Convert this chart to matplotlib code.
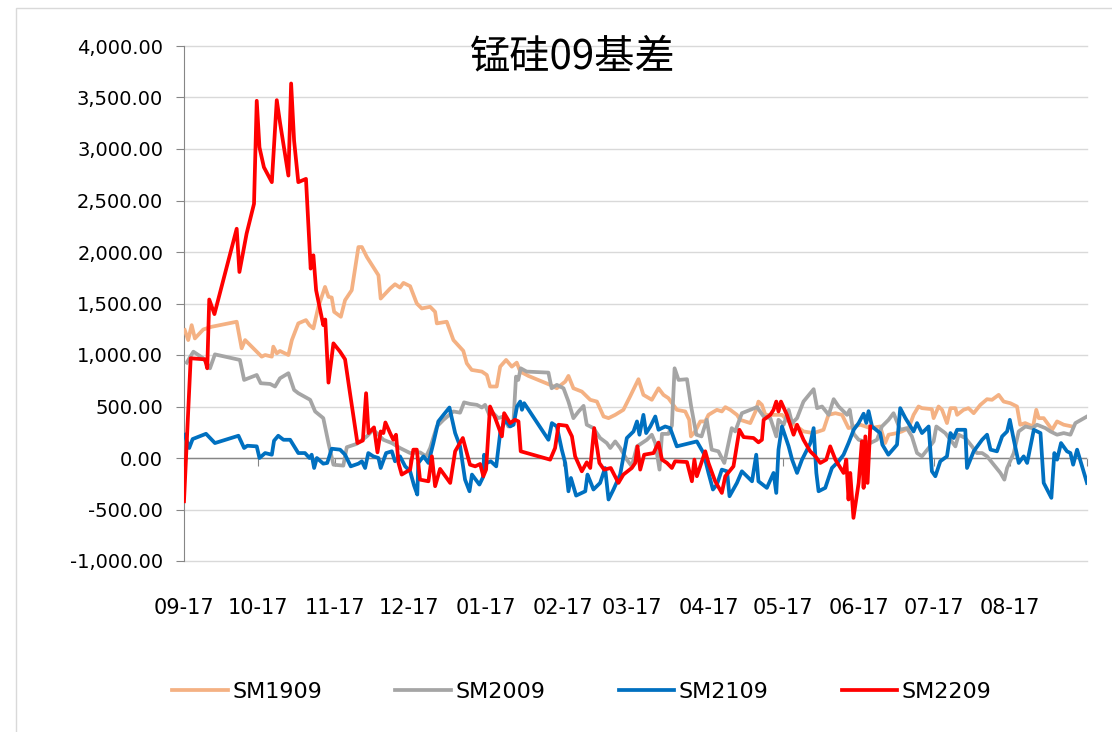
import datetime as dt
import matplotlib
matplotlib.use("Agg")
import matplotlib.pyplot as plt
import numpy as np
from matplotlib.patches import Rectangle
from matplotlib.ticker import FuncFormatter

plt.rcParams['font.family'] = ['DejaVu Sans']

# x = days after 09-17, y = basis
sm1909_day = [0.3, 1.7, 3.1, 4.4, 7.8, 11.2, 21.3, 23.3, 24.7, 29.4,
              31.4, 32.8, 35.5, 36.1, 37.5, 38.8, 42.2, 43.6, 46.2, 49.3,
              50.7, 52.3, 54.3, 57.0, 58.4, 59.7, 60.7, 63.4, 65.1, 67.8,
              70.5, 71.9, 73.9, 78.6, 79.5, 83.3, 85.3, 87.3, 88.7, 91.4,
              94.1, 96.1, 99.5, 101.5, 102.2, 106.2, 108.9, 112.9, 114.3, 116.3,
              120.4, 122.4, 123.7, 126.4, 127.8, 130.2, 132.5, 134.5, 135.9, 139.2,
              148.0, 150.7, 154.1, 155.4, 157.4, 160.8, 164.2, 166.9, 169.6, 171.6,
              174.3, 177.6, 180.3, 183.7, 185.7, 189.1, 191.8, 193.8, 195.8, 199.2,
              202.6, 204.2, 204.9, 206.6, 208.7, 210.7, 212.0, 215.4, 217.4, 218.8,
              220.8, 223.5, 224.8, 228.9, 231.3, 232.2, 233.6, 235.0, 241.7, 244.4,
              247.8, 250.4, 254.5, 258.5, 260.5, 263.3, 266.0, 268.6, 273.4, 277.4,
              281.4, 283.4, 284.8, 288.2, 290.2, 292.9, 294.9, 296.9, 298.3, 302.3,
              303.0, 305.0, 306.4, 308.4, 309.8, 311.8, 312.5, 315.1, 317.1, 319.2,
              321.9, 324.6, 326.6, 329.3, 331.3, 334.0, 336.7, 338.0, 340.0, 343.2,
              344.5, 345.5, 347.5, 350.9, 352.9, 355.6, 359.0]
sm1909_val = [1242, 1145, 1290, 1161, 1248, 1274, 1323, 1065, 1145, 1032,
              984, 1000, 984, 1081, 1016, 1039, 1000, 1145, 1307, 1339,
              1290, 1258, 1468, 1661, 1565, 1558, 1419, 1371, 1532, 1629,
              2048, 2048, 1952, 1774, 1548, 1645, 1687, 1655, 1700, 1668,
              1500, 1452, 1468, 1419, 1307, 1323, 1145, 1040, 919, 855,
              839, 806, 694, 694, 887, 952, 887, 926, 839, 797,
              710, 677, 742, 797, 677, 645, 565, 548, 403, 387,
              419, 468, 597, 765, 613, 565, 677, 613, 581, 468,
              452, 371, 210, 258, 355, 355, 419, 468, 452, 494,
              468, 419, 371, 339, 468, 548, 516, 419, 419, 355,
              306, 258, 242, 274, 419, 435, 419, 290, 323, 290,
              306, 145, 226, 242, 258, 290, 419, 500, 484, 474,
              387, 500, 468, 339, 484, 484, 419, 468, 484, 435,
              516, 571, 565, 613, 548, 532, 500, 323, 339, 306,
              468, 387, 387, 274, 355, 323, 306]

sm2009_day = [1.1, 3.8, 7.8, 10.5, 12.5, 22.6, 24.3, 29.4, 31.0, 34.8,
              36.8, 38.8, 42.2, 44.5, 46.2, 51.0, 53.0, 56.3, 58.4, 60.4,
              64.4, 65.8, 69.8, 73.9, 76.5, 78.6, 80.6, 84.0, 87.3, 91.4,
              95.4, 97.9, 99.5, 102.2, 104.9, 108.9, 111.6, 113.2, 115.6, 118.4,
              120.4, 121.7, 123.4, 125.0, 127.0, 129.1, 131.1, 133.1, 134.2, 135.1,
              136.1, 138.5, 147.3, 148.6, 150.7, 153.4, 155.4, 157.4, 159.5, 161.5,
              162.8, 165.5, 168.2, 170.9, 172.3, 174.3, 176.3, 179.0, 181.0, 183.1,
              185.1, 187.1, 189.1, 190.5, 192.2, 193.2, 195.8, 197.2, 198.3, 199.9,
              203.3, 205.0, 207.1, 209.2, 211.3, 213.3, 216.0, 218.4, 220.1, 221.4,
              222.8, 225.5, 228.9, 231.6, 234.3, 237.0, 239.4, 240.3, 242.4, 244.4,
              245.8, 247.8, 250.4, 254.5, 255.9, 257.9, 260.6, 262.6, 264.6, 268.0,
              269.1, 270.7, 272.7, 277.4, 280.1, 282.1, 284.8, 286.8, 289.5, 292.2,
              294.2, 296.3, 298.3, 301.0, 303.0, 304.1, 307.7, 309.8, 311.8, 313.1,
              315.8, 318.5, 320.5, 322.6, 324.6, 327.3, 330.0, 331.6, 332.7, 335.4,
              337.4, 340.1, 342.8, 344.8, 348.2, 350.2, 352.9, 355.6, 358.3, 360.3,
              365.0]
sm2009_val = [926, 1032, 968, 871, 1006, 952, 758, 806, 726, 719,
              694, 774, 823, 661, 629, 565, 452, 387, 145, -65,
              -74, 105, 137, 210, 274, 226, 177, 145, 97, 48,
              55, 16, 97, 306, 371, 452, 440, 540, 525, 516,
              490, 516, 419, 435, 387, 403, 306, 323, 790, 758,
              871, 839, 829, 677, 710, 677, 548, 387, 452, 506,
              323, 290, 194, 145, 97, 161, 97, -16, -81, 113,
              145, 177, 226, 145, -113, 234, 234, 315, 871, 758,
              765, 500, 226, 210, 371, 81, 65, -48, 145, 290,
              258, 435, 468, 494, 403, 387, 210, 371, 323, 468,
              339, 387, 548, 668, 484, 500, 419, 571, 500, 419,
              468, 234, 177, 145, 177, 306, 371, 435, 274, 290,
              210, 48, 16, 97, 161, 306, 242, 177, 113, 226,
              194, 113, 48, 48, 16, -65, -145, -210, -97, 48,
              258, 306, 290, 323, 290, 258, 226, 242, 226, 339,
              403]

sm2109_day = [0.3, 2.1, 3.5, 8.9, 12.5, 22.0, 24.3, 25.6, 29.4, 30.5,
              32.8, 35.5, 36.4, 38.1, 40.2, 42.9, 46.2, 48.9, 50.7, 51.6,
              52.6, 53.7, 56.3, 57.9, 59.7, 63.1, 65.1, 67.4, 70.5, 71.9,
              73.2, 74.5, 76.5, 78.6, 79.5, 81.7, 84.0, 85.3, 87.3, 89.4,
              91.4, 93.0, 94.3, 94.7, 96.8, 98.8, 100.8, 102.8, 104.9, 107.3,
              109.6, 111.6, 113.6, 115.4, 116.4, 119.4, 120.9, 121.3, 122.4, 124.0,
              126.2, 127.8, 129.8, 131.8, 133.2, 134.6, 135.9, 136.6, 137.5, 139.3,
              147.3, 148.7, 150.7, 152.7, 154.1, 155.4, 156.4, 158.5, 162.2, 163.1,
              164.2, 165.5, 168.2, 170.2, 171.6, 173.6, 176.3, 179.0, 181.7, 183.1,
              184.1, 185.7, 186.8, 188.5, 190.5, 191.8, 194.5, 196.5, 199.2, 204.6,
              207.3, 210.0, 212.0, 213.8, 215.4, 217.4, 219.5, 220.5, 223.5, 225.5,
              229.6, 231.3, 232.2, 235.6, 238.3, 239.4, 240.3, 241.7, 244.4, 245.8,
              247.8, 249.8, 253.2, 254.5, 255.6, 256.5, 259.2, 261.9, 264.6, 266.6,
              268.6, 270.7, 272.7, 274.7, 275.8, 276.7, 278.1, 281.4, 282.3, 284.7,
              288.2, 289.5, 291.6, 294.9, 296.3, 298.3, 301.0, 302.3, 303.7, 305.7,
              308.4, 309.8, 311.1, 312.5, 315.8, 316.5, 319.2, 322.6, 324.6, 326.0,
              328.6, 330.7, 332.7, 333.8, 335.4, 337.4, 339.4, 340.8, 343.5, 346.2,
              347.5, 350.6, 351.8, 352.9, 354.5, 356.9, 358.3, 359.4, 361.0, 365.0]
sm2109_val = [226, 97, 184, 235, 145, 216, 97, 119, 113, 0,
              48, 32, 168, 216, 177, 177, 48, 48, 0, 32,
              -97, 0, -55, -48, 90, 81, 32, -81, -55, -32,
              -97, 48, 16, 0, -97, 48, 65, -32, 16, -81,
              -129, -268, -355, -48, 16, -48, 145, 355, 419, 490,
              242, 113, -210, -323, -161, -258, -185, 32, -48, -32,
              -81, 242, 371, 306, 323, 500, 548, 468, 532, 468,
              177, 339, 306, 81, -48, -323, -194, -365, -323, -161,
              -226, -306, -242, -97, -403, -306, -161, 194, 258, 355,
              226, 419, 242, 306, 403, 274, 306, 290, 113, 145,
              161, 48, -145, -306, -258, -113, -129, -371, -242, -129,
              -226, 32, -226, -290, -145, -339, 81, 306, 113, -16,
              -145, -16, 145, 290, -145, -323, -290, -97, -32, 32,
              145, 274, 339, 430, 340, 455, 306, 242, 129, 32,
              129, 484, 387, 258, 339, 242, 306, -129, -177, -32,
              16, 242, 194, 274, 274, -97, 65, 177, 226, 81,
              65, 210, 258, 371, 177, -48, 16, -48, 274, 242,
              -242, -387, 48, -16, 145, 65, 48, -65, 81, -242]

sm2209_day = [0.0, 2.7, 8.5, 9.4, 10.2, 12.3, 21.3, 22.4, 25.3, 28.3,
              29.4, 30.5, 32.3, 35.5, 37.5, 38.8, 42.2, 43.3, 44.5, 46.2,
              49.3, 51.2, 52.3, 53.4, 56.3, 57.1, 58.4, 60.4, 63.1, 65.1,
              67.1, 70.1, 72.3, 73.6, 74.6, 75.9, 76.8, 78.2, 79.5, 80.6,
              81.4, 83.3, 84.6, 85.7, 86.7, 88.0, 91.4, 92.7, 94.1, 95.4,
              98.8, 100.2, 101.5, 103.5, 107.6, 109.6, 112.7, 113.6, 115.6, 117.7,
              119.7, 121.0, 122.1, 123.7, 125.8, 128.5, 129.4, 131.8, 133.8, 135.2,
              136.1, 148.0, 150.0, 151.4, 154.7, 156.8, 158.1, 160.8, 162.8, 164.2,
              165.8, 167.9, 169.8, 172.5, 175.6, 177.6, 181.0, 182.4, 183.3, 184.4,
              186.0, 189.8, 191.8, 193.2, 195.2, 197.2, 198.5, 203.3, 205.3, 206.3,
              207.3, 210.7, 212.0, 214.7, 217.4, 218.8, 222.1, 224.5, 226.2, 230.2,
              232.2, 233.6, 234.3, 237.0, 238.3, 239.4, 240.3, 241.3, 243.7, 246.4,
              247.8, 250.4, 253.1, 255.2, 257.2, 259.6, 261.2, 263.3, 266.6, 267.7,
              268.6, 269.3, 270.6, 272.7, 274.0, 274.7, 275.4, 276.3, 277.4]
sm2209_val = [-420, 968, 958, 871, 1539, 1397, 2226, 1806, 2178, 2468,
              3468, 3016, 2823, 2678, 3474, 3258, 2742, 3636, 3081, 2678,
              2710, 1839, 1968, 1629, 1290, 1345, 732, 1113, 1032, 958,
              629, 145, 170, 629, 242, 274, 297, 55, 258, 242,
              345, 242, 177, 226, -48, -161, -113, 81, 81, -210,
              -226, 16, -274, -106, -242, 65, 194, 113, -65, -81,
              -58, -177, -113, 500, 387, 210, 435, 339, 371, 355,
              65, -16, 97, 323, 313, 210, 16, -129, -42, -97,
              290, -48, -113, -97, -242, -161, -97, -48, 113, -113,
              32, 48, 150, -16, -48, -97, -32, -39, -226, -16,
              -177, 65, -48, -226, -339, -177, -81, 274, 203, 194,
              152, 177, 371, 419, 468, 548, 452, 548, 419, 226,
              323, 177, 65, 16, -48, -16, 113, -16, -145, -16,
              -403, -145, -581, -242, 161, -290, 210, -242, 306]

series = [("SM1909", sm1909_day, sm1909_val, "#F4B183"),
          ("SM2009", sm2009_day, sm2009_val, "#A5A5A5"),
          ("SM2109", sm2109_day, sm2109_val, "#0070C0"),
          ("SM2209", sm2209_day, sm2209_val, "#FF0000")]

# month ticks: the 17th of each month
start = dt.date(2018, 9, 17)
month_dates = [dt.date(2018 + (8 + i) // 12, (8 + i) % 12 + 1, 17) for i in range(13)]
month_days = [(d - start).days for d in month_dates]
month_labels = [d.strftime("%m-%d") for d in month_dates]

#------------------------------------------------------------------
fig = plt.figure(figsize=(11.12, 7.32), dpi=100)
ax = fig.add_axes([184 / 1112, 1 - 561 / 732, 903 / 1112, 515 / 732])

handles = []
for name, d, v, c in series:
    ln, = ax.plot(d, v, color=c, lw=2.7, solid_joinstyle='round', label=name, zorder=3)
    handles.append(ln)

ax.set_xlim(0, 365)
ax.set_ylim(-1000, 4000)
ax.set_yticks(np.arange(-1000, 4001, 500))
ax.yaxis.set_major_formatter(FuncFormatter(lambda y, p: "{:,.2f}".format(y)))
ax.yaxis.grid(True, color='#d9d9d9', lw=1)
for gl in ax.get_ygridlines():
    gl.set_clip_on(False)
ax.set_axisbelow(True)

for s in ['top', 'right', 'bottom']:
    ax.spines[s].set_visible(False)
ax.spines['left'].set_color('#868686')
ax.tick_params(axis='y', length=6, color='#868686', labelsize=14, pad=9)

ax.set_xticks(month_days[:-1])
ax.set_xticklabels(month_labels[:-1])
ax.tick_params(axis='x', length=0, labelsize=15, pad=27)

# category axis crossing at 0
ax.axhline(0, color='#868686', lw=1, zorder=2)
sec = ax.secondary_xaxis(0.2)
sec.spines['bottom'].set_visible(False)
sec.set_xticks(month_days)
sec.set_xticklabels([])
sec.tick_params(axis='x', length=6, color='#868686')

fig.text(573 / 1112, 1 - 57 / 732, "锰硅09基差", fontsize=29,
         family=['Noto Sans CJK SC', 'DejaVu Sans'], ha='center', va='center')

fig.legend(handles, [h.get_label() for h in handles], loc='center',
           bbox_to_anchor=(582 / 1112, 1 - 692 / 732), ncol=4, frameon=False,
           fontsize=16, handlelength=2.5, handletextpad=0.2, columnspacing=3.3)

fig.patches.append(Rectangle((16 / 1112, -0.1), 1.2, 1.1 - 8 / 732,
                             transform=fig.transFigure, fill=False,
                             edgecolor='#d9d9d9', lw=1))

fig.savefig("out.png", dpi=100)
